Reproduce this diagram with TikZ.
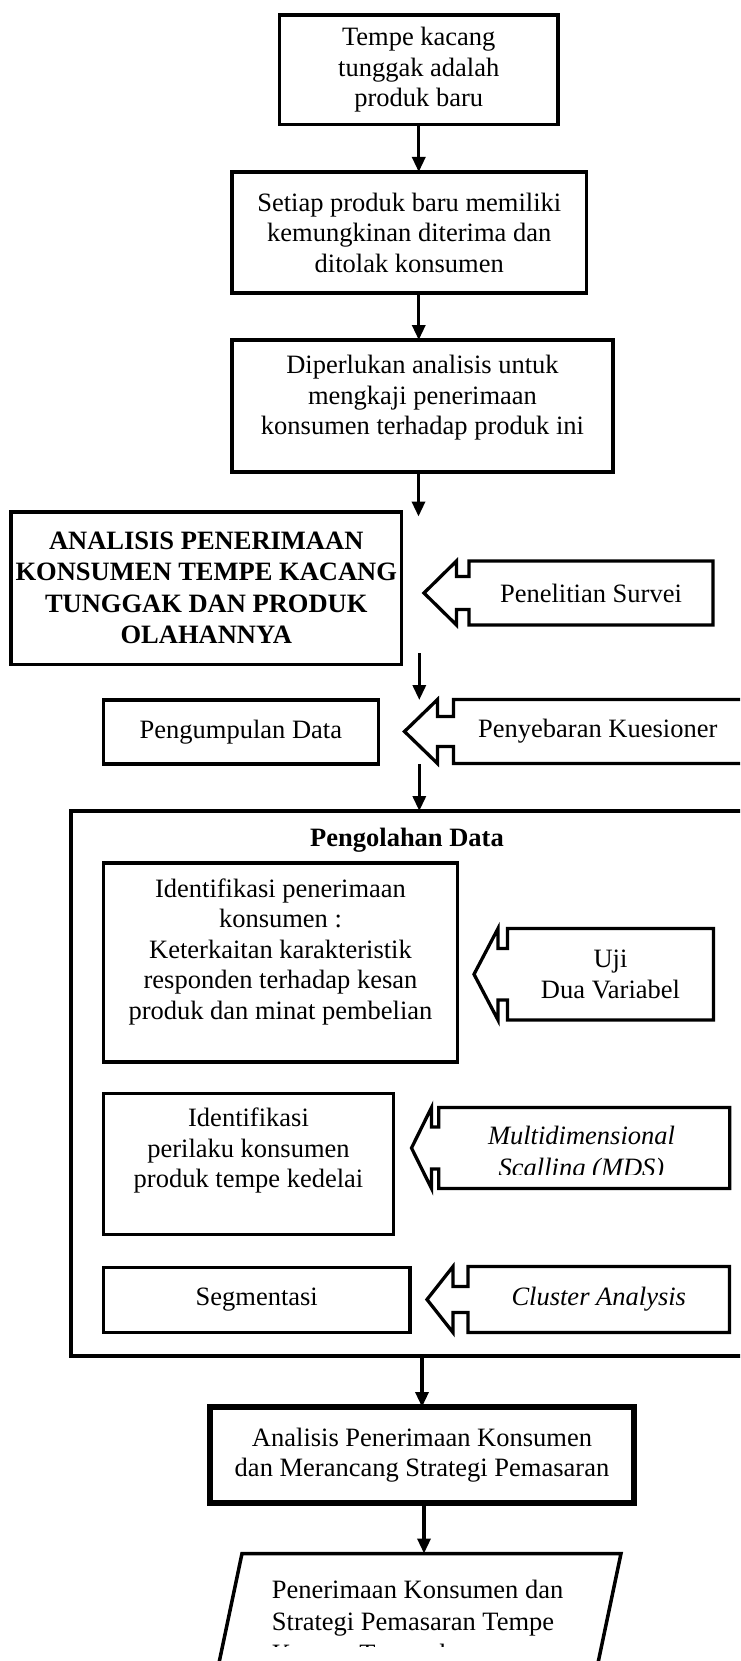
\documentclass[tikz,border=0pt]{standalone}
\usepackage{fontspec}
\setmainfont{Liberation Serif}
\usetikzlibrary{arrows.meta}

\newcommand{\leftcallout}[4]{%
  \draw[calloutline] (#1.north west) -- (#1.north east) -- (#1.south east) -- (#1.south west)
    -- ++(0,-#4) -- ++(-#2,0) -- ++(0,#4) -- ([xshift=-#2pt-#3pt]#1.west)
    -- ([xshift=-#2pt]#1.north west) -- ++(0,#4) -- ++(#2,0) -- cycle;}

\begin{document}
\begin{tikzpicture}[x=1pt, y=-1pt,
  flowtext/.style={align=center, inner sep=0pt, font=\fontsize{26.5}{30.5}\selectfont},
  flowbox/.style={flowtext, draw, line width=3.5pt, outer sep=0pt},
  calloutbox/.style={flowtext, outer sep=0pt},
  calloutline/.style={line width=3.3pt, line join=miter},
  framebox/.style={draw, line width=4pt, inner sep=0pt, outer sep=0pt},
  flow/.style={line width=3.3pt, -{Triangle[length=15pt, width=13pt]}}]
\path[use as bounding box, clip] (0,0) rectangle (740,1661);

\node[flowbox, minimum width=278.5pt, minimum height=109.5pt] (newprod) at (418.75,69.75) {Tempe kacang\\tunggak adalah\\produk baru};
\node[flowbox, minimum width=354.5pt, minimum height=121pt] (chance) at (409.25,232.5) {Setiap produk baru memiliki\\kemungkinan diterima dan\\ditolak konsumen};
\node[flowbox, minimum width=381pt, minimum height=132pt] (need) at (422.5,406) {};
\node[flowtext] (needtext) at (422.5,398) {Diperlukan analisis untuk\\mengkaji penerimaan\\konsumen terhadap produk ini};
\node[flowbox, minimum width=390.5pt, minimum height=152.5pt, font=\fontsize{26.5}{31.5}\selectfont\bfseries] (title) at (206.25,588) {ANALISIS PENERIMAAN\\KONSUMEN TEMPE KACANG\\TUNGGAK DAN PRODUK\\OLAHANNYA};
\node[calloutbox, minimum width=244pt, minimum height=64pt] (survey) at (591,593) {Penelitian Survei};
\leftcallout{survey}{12.5}{32.5}{15.5}

\node[flowbox, minimum width=274.8pt, minimum height=64pt] (collect) at (240.9,732) {Pengumpulan Data};
\node[calloutbox, minimum width=288.5pt, minimum height=64pt] (spread) at (597.75,731.5) {Penyebaran Kuesioner};
\leftcallout{spread}{16}{33}{17}

\node[framebox, minimum width=679pt, minimum height=545pt] (frame) at (410.5,1083.5) {};
\node[flowtext, font=\fontsize{26.5}{30.5}\selectfont\bfseries] (frametitle) at (407,840) {Pengolahan Data};

\node[flowbox, minimum width=354pt, minimum height=199pt] (relation) at (280.5,962.5) {};
\node[flowtext] (relationtext) at (280.5,951.7) {Identifikasi penerimaan\\konsumen :\\Keterkaitan karakteristik\\responden terhadap kesan\\produk dan minat pembelian};
\node[calloutbox, minimum width=206pt, minimum height=91.5pt] (test) at (610.5,974.25) {Uji\\Dua Variabel};
\leftcallout{test}{9.5}{24}{20}

\node[flowbox, minimum width=290pt, minimum height=141pt] (behaviour) at (248.5,1164) {};
\node[flowtext] (behaviourtext) at (248.5,1150.6) {Identifikasi\\perilaku konsumen\\produk tempe kedelai};
\node[calloutbox, minimum width=291pt, minimum height=81pt] (mds) at (584.3,1148) {};
\leftcallout{mds}{7.3}{20}{19.5}
\begin{scope}
\clip (0,0) rectangle (740,1174);
\node[flowtext, font=\fontsize{26.5}{31.5}\selectfont\itshape] (mdstext) at (581.5,1154) {Multidimensional\\Scalling (MDS)};
\end{scope}

\node[flowbox, minimum width=306.5pt, minimum height=65pt] (segment) at (256.75,1300) {Segmentasi};
\node[calloutbox, minimum width=261.5pt, minimum height=66pt, font=\fontsize{26.5}{30.5}\selectfont\itshape] (cluster) at (598.75,1299.5) {Cluster Analysis};
\leftcallout{cluster}{15}{26}{20}

\node[flowbox, line width=6.5pt, minimum width=424pt, minimum height=96pt] (strategy) at (422,1455) {Analisis Penerimaan Konsumen\\dan Merancang Strategi Pemasaran};

\draw[line width=3.5pt] (242,1553.5) -- (621,1553.5) -- (590.2,1700) -- (211.2,1700) -- cycle;
\coordinate (outtop) at (424,1553.5);
\begin{scope}
\clip (0,0) rectangle (740,1646);
\node[flowtext, align=left, anchor=north west, font=\fontsize{26.5}{32}\selectfont] (outtext) at (271.7,1580) {Penerimaan Konsumen dan\\Strategi Pemasaran Tempe\\Kacang Tunggak};
\end{scope}

\coordinate (titletip) at (418.5,516.5);
\coordinate (collecttail) at (419.3,653.3);
\draw[flow] (newprod.south) -- (newprod.south |- chance.north);
\draw[flow] (newprod.south |- chance.south) -- (newprod.south |- need.north);
\draw[flow] (titletip |- need.south) -- (titletip);
\draw[flow] (collecttail) -- (collecttail |- collect.north);
\draw[flow] (collecttail |- collect.south) -- (collecttail |- frame.north);
\draw[flow] (strategy.north |- frame.south) -- (strategy.north);
\draw[flow] (outtop |- strategy.south) -- (outtop);
\end{tikzpicture}
\end{document}
